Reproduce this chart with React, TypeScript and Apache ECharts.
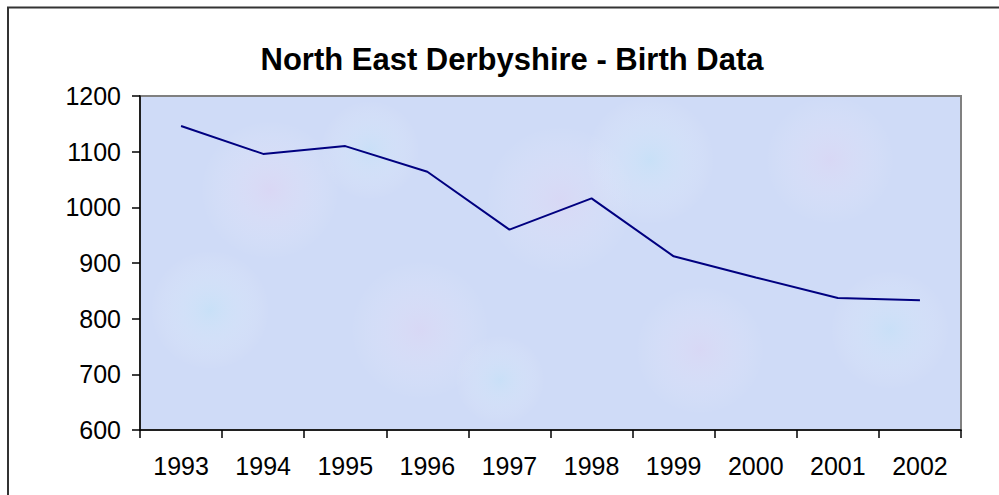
import React, { useEffect, useRef } from "react";
import * as echarts from "echarts";

const chartTitle = "North East Derbyshire - Birth Data";
const years = ["1993", "1994", "1995", "1996", "1997", "1998", "1999", "2000", "2001", "2002"];
const births = [1146, 1096, 1110, 1064, 960, 1016, 912, 874, 837, 833];
const yMin = 600;
const yMax = 1200;
const yStep = 100;

// decorative mottled background blobs (not data)
const blobs: { cx: number; cy: number; r: number; c: string }[] = [
  { cx: 270, cy: 190, r: 70, c: "rgba(236,208,240,0.35)" },
  { cx: 560, cy: 200, r: 75, c: "rgba(236,208,240,0.3)" },
  { cx: 830, cy: 160, r: 65, c: "rgba(236,208,240,0.3)" },
  { cx: 420, cy: 330, r: 70, c: "rgba(236,208,240,0.3)" },
  { cx: 700, cy: 350, r: 65, c: "rgba(236,208,240,0.3)" },
  { cx: 210, cy: 310, r: 60, c: "rgba(190,232,248,0.4)" },
  { cx: 650, cy: 160, r: 65, c: "rgba(190,232,248,0.4)" },
  { cx: 890, cy: 330, r: 60, c: "rgba(190,232,248,0.35)" },
  { cx: 370, cy: 150, r: 50, c: "rgba(190,232,248,0.35)" },
  { cx: 500, cy: 380, r: 45, c: "rgba(190,232,248,0.35)" },
];

export default function App() {
  const ref = useRef<HTMLDivElement>(null);
  useEffect(() => {
    if (!ref.current) return;
    const chart = echarts.init(ref.current, undefined, { renderer: "svg" });
    const font = "'Liberation Sans', Arial, sans-serif";
    chart.setOption({
      animation: false,
      backgroundColor: "#ffffff",
      title: {
        text: chartTitle,
        left: 507,
        top: 39,
        textAlign: "center",
        textStyle: { fontFamily: font, fontSize: 31, fontWeight: "bold", color: "#000" },
      },
      grid: {
        left: 140,
        right: 38,
        top: 96,
        bottom: 65,
        show: true,
        backgroundColor: "#cfdbf7",
        borderColor: "#808080",
        borderWidth: 2,
      },
      graphic: [
        ...blobs.map((b) => ({
          type: "circle",
          z: 1,
          silent: true,
          shape: { cx: b.cx, cy: b.cy, r: b.r },
          style: {
            fill: {
              type: "radial",
              x: 0.5,
              y: 0.5,
              r: 0.5,
              colorStops: [
                { offset: 0, color: b.c },
                { offset: 1, color: "rgba(255,255,255,0)" },
              ],
            },
          },
        })),
        {
          type: "rect",
          z: 100,
          silent: true,
          shape: { x: 8, y: 7.5, width: 2000, height: 2000 },
          style: { fill: "none", stroke: "#333", lineWidth: 2 },
        },
      ],
      xAxis: {
        type: "category",
        data: years,
        boundaryGap: true,
        z: 10,
        axisLine: { show: true, lineStyle: { color: "#000", width: 1.5 } },
        axisTick: { show: true, length: 8, lineStyle: { color: "#000", width: 1.5 } },
        axisLabel: { fontFamily: font, fontSize: 25, color: "#000", margin: 23 },
        splitLine: { show: false },
      },
      yAxis: {
        type: "value",
        min: yMin,
        max: yMax,
        interval: yStep,
        z: 10,
        axisLine: { show: true, lineStyle: { color: "#000", width: 1.5 } },
        axisTick: { show: true, length: 8, lineStyle: { color: "#000", width: 1.5 } },
        axisLabel: {
          fontFamily: font,
          fontSize: 25,
          color: "#000",
          margin: 19,
          formatter: (v: number) => String(v),
        },
        splitLine: { show: false },
      },
      series: [
        {
          type: "line",
          data: births,
          z: 5,
          showSymbol: false,
          symbol: "none",
          lineStyle: { color: "#000080", width: 2 },
        },
      ],
    });
    return () => chart.dispose();
  }, []);
  return (
    <div
      ref={ref}
      style={{ position: "fixed", left: 0, top: 0, width: 999, height: 495 }}
    />
  );
}
